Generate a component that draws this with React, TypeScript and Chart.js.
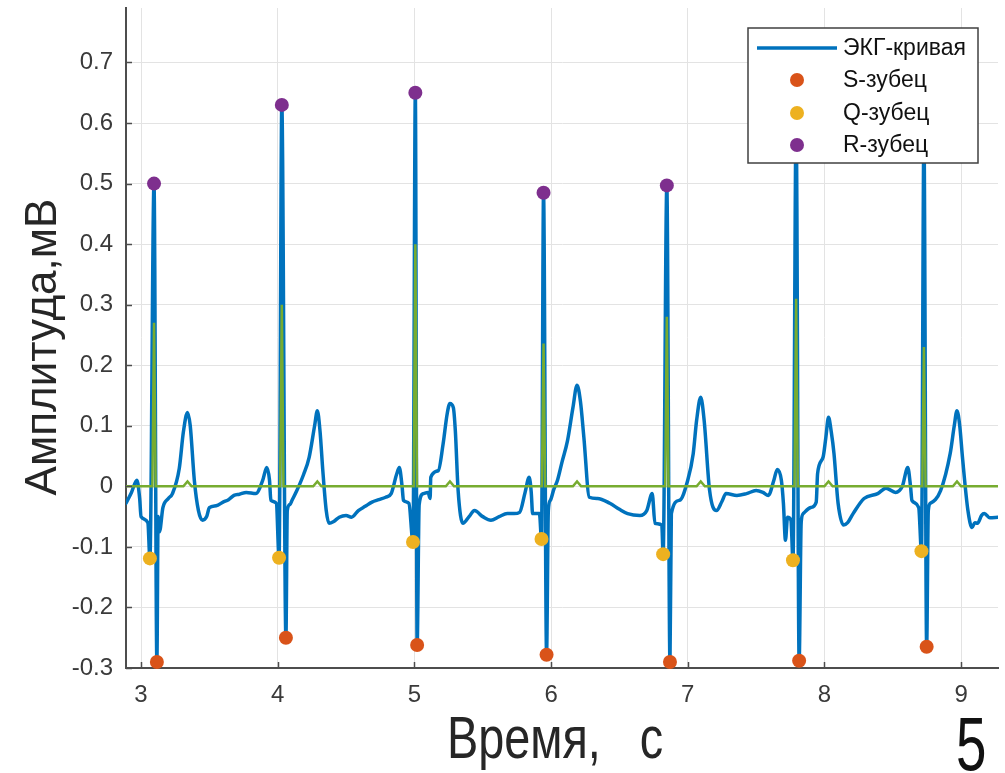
import React, { useEffect, useRef } from "react";
import { Chart, registerables } from "chart.js";

Chart.register(...registerables);

// ---- Data (time in s, amplitude in mV) ----
const ecgCurve: [number, number][] = [
  [2.89, -0.028], [2.93, -0.01], [2.97, 0.01], [2.99, -0.02], [3.0, -0.05], [3.05, -0.06],
  [3.065, -0.119], [3.095, 0.5], [3.116, -0.29], [3.125, -0.05], [3.135, -0.075], [3.16, -0.035],
  [3.2, -0.02], [3.23, -0.012], [3.28, 0.03], [3.31, 0.09], [3.34, 0.122], [3.36, 0.1],
  [3.39, 0.01], [3.42, -0.04], [3.45, -0.056], [3.48, -0.05], [3.5, -0.035], [3.55, -0.032],
  [3.6, -0.026], [3.64, -0.022], [3.68, -0.015], [3.72, -0.013], [3.77, -0.01], [3.84, -0.012],
  [3.89, 0.01], [3.92, 0.031], [3.94, 0.01], [3.95, -0.023], [3.99, -0.028],
  [4.01, -0.118], [4.03, 0.63], [4.06, -0.25], [4.07, -0.04], [4.09, -0.03], [4.105, -0.023],
  [4.14, -0.007], [4.19, 0.02], [4.23, 0.048], [4.27, 0.1], [4.29, 0.125], [4.31, 0.09],
  [4.33, 0.026], [4.355, -0.04], [4.375, -0.061], [4.41, -0.058], [4.45, -0.051], [4.5, -0.048],
  [4.54, -0.051], [4.59, -0.04], [4.64, -0.033], [4.69, -0.026], [4.74, -0.022], [4.79, -0.018],
  [4.83, -0.012], [4.87, 0.02], [4.89, 0.031], [4.91, 0.0], [4.92, -0.023], [4.96, -0.028],
  [4.99, -0.092], [5.007, 0.65], [5.02, -0.262], [5.035, -0.03], [5.065, -0.012], [5.1, -0.01],
  [5.115, -0.02], [5.12, 0.015], [5.175, 0.026], [5.21, 0.07], [5.24, 0.12], [5.26, 0.137],
  [5.285, 0.13], [5.3, 0.09], [5.32, -0.007], [5.355, -0.061], [5.4, -0.05], [5.44, -0.04],
  [5.5, -0.05], [5.56, -0.056], [5.62, -0.05], [5.68, -0.045], [5.73, -0.045], [5.77, -0.043],
  [5.81, -0.01], [5.84, 0.015], [5.855, -0.01], [5.865, -0.045], [5.915, -0.045],
  [5.93, -0.087], [5.945, 0.485], [5.967, -0.278], [5.98, -0.04], [5.995, -0.023], [6.02, -0.005],
  [6.047, 0.01], [6.08, 0.04], [6.12, 0.075], [6.16, 0.13], [6.19, 0.167], [6.215, 0.14],
  [6.24, 0.081], [6.28, -0.018], [6.34, -0.02], [6.43, -0.028], [6.5, -0.038], [6.56, -0.045],
  [6.65, -0.048], [6.7, -0.04], [6.74, -0.012], [6.76, -0.061], [6.81, -0.064],
  [6.82, -0.112], [6.847, 0.497], [6.87, -0.29], [6.88, -0.045], [6.94, -0.023], [7.0, 0.01],
  [7.04, 0.054], [7.065, 0.109], [7.095, 0.147], [7.12, 0.109], [7.16, -0.007], [7.21, -0.04],
  [7.25, -0.025], [7.28, -0.012], [7.36, -0.015], [7.43, -0.012], [7.5, -0.007], [7.55, -0.01],
  [7.59, -0.015], [7.63, 0.01], [7.655, 0.028], [7.685, 0.01], [7.7, -0.028], [7.715, -0.089],
  [7.73, -0.051], [7.755, -0.056], [7.77, -0.122], [7.793, 0.6], [7.815, -0.288], [7.83, -0.06],
  [7.845, -0.045], [7.9, -0.035], [7.94, -0.026], [7.95, 0.021], [7.99, 0.048], [8.01, 0.08],
  [8.03, 0.114], [8.05, 0.09], [8.07, 0.054], [8.1, -0.028], [8.14, -0.064], [8.17, -0.06],
  [8.21, -0.045], [8.29, -0.02], [8.39, -0.012], [8.45, -0.003], [8.52, -0.01], [8.57, 0.0],
  [8.61, 0.031], [8.63, 0.0], [8.64, -0.023], [8.69, -0.035], [8.71, -0.107], [8.728, 0.58],
  [8.748, -0.265], [8.76, -0.04], [8.775, -0.028], [8.85, -0.007], [8.92, 0.054], [8.95, 0.1],
  [8.97, 0.125], [8.99, 0.1], [9.01, 0.048], [9.05, -0.04], [9.08, -0.068], [9.1, -0.06],
  [9.12, -0.061], [9.15, -0.048], [9.17, -0.045], [9.21, -0.052], [9.27, -0.051],
];

const filteredCurve: [number, number][] = [
  [2.89, 0], [3.083, 0], [3.095, 0.27], [3.107, 0], [3.31, 0], [3.34, 0.008], [3.37, 0],
  [4.018, 0], [4.03, 0.3], [4.042, 0], [4.26, 0], [4.29, 0.008], [4.32, 0],
  [4.995, 0], [5.007, 0.4], [5.019, 0], [5.23, 0], [5.26, 0.008], [5.29, 0],
  [5.933, 0], [5.945, 0.236], [5.957, 0], [6.16, 0], [6.19, 0.008], [6.22, 0],
  [6.835, 0], [6.847, 0.28], [6.859, 0], [7.065, 0], [7.095, 0.008], [7.125, 0],
  [7.781, 0], [7.793, 0.31], [7.805, 0], [8.0, 0], [8.03, 0.008], [8.06, 0],
  [8.716, 0], [8.728, 0.23], [8.74, 0], [8.94, 0], [8.97, 0.008], [9.0, 0], [9.27, 0],
];

const sTime = [3.116, 4.06, 5.02, 5.967, 6.87, 7.815, 8.748];
const sValue = [-0.29, -0.25, -0.262, -0.278, -0.29, -0.288, -0.265];
const qTime = [3.065, 4.01, 4.99, 5.93, 6.82, 7.77, 8.71];
const qValue = [-0.119, -0.118, -0.092, -0.087, -0.112, -0.122, -0.107];
const rTime = [3.095, 4.03, 5.007, 5.945, 6.847, 7.793, 8.728];
const rValue = [0.5, 0.63, 0.65, 0.485, 0.497, 0.6, 0.58];

const xTicks = [3, 4, 5, 6, 7, 8, 9];
const xTickLabels = ["3", "4", "5", "6", "7", "8", "9"];
const yTicks = [-0.3, -0.2, -0.1, 0, 0.1, 0.2, 0.3, 0.4, 0.5, 0.6, 0.7];
const yTickLabels = ["-0.3", "-0.2", "-0.1", "0", "0.1", "0.2", "0.3", "0.4", "0.5", "0.6", "0.7"];

const legendLabels = ["ЭКГ-кривая", "S-зубец", "Q-зубец", "R-зубец"];
const xTitle = "Время,   с";
const yTitle = "Амплитуда,мВ";
const pageNumber = "5";

const BLUE = "#0072BD";
const GREEN = "#77AC30";
const ORANGE = "#D95319";
const YELLOW = "#EDB120";
const PURPLE = "#7E2F8E";
const FONT = '"Liberation Sans", Arial, Helvetica, sans-serif';

const overlayPlugin = {
  id: "overlay",
  afterDraw(chart: any) {
    const { ctx, chartArea: a, scales } = chart;
    const xs = scales.x;
    const ys = scales.y;
    ctx.save();
    // inward tick marks
    ctx.strokeStyle = "#4d4d4d";
    ctx.lineWidth = 1.5;
    yTicks.forEach((v) => {
      const py = Math.round(ys.getPixelForValue(v)) + 0.5;
      ctx.beginPath();
      ctx.moveTo(a.left, py);
      ctx.lineTo(a.left + 6, py);
      ctx.stroke();
    });
    xTicks.forEach((v) => {
      const px = Math.round(xs.getPixelForValue(v)) + 0.5;
      ctx.beginPath();
      ctx.moveTo(px, a.bottom);
      ctx.lineTo(px, a.bottom - 6);
      ctx.stroke();
    });

    // y title
    ctx.fillStyle = "#262626";
    ctx.save();
    ctx.font = `44px ${FONT}`;
    ctx.translate(56, (a.top + a.bottom) / 2 + 9);
    ctx.rotate(-Math.PI / 2);
    ctx.textAlign = "center";
    ctx.textBaseline = "alphabetic";
    ctx.fillText(yTitle, 0, 0);
    ctx.restore();

    // x title
    ctx.save();
    ctx.font = `60px ${FONT}`;
    ctx.translate(447, 758);
    ctx.scale(0.78, 1);
    ctx.textAlign = "left";
    ctx.textBaseline = "alphabetic";
    ctx.fillText(xTitle, 0, 0);
    ctx.restore();

    // page number
    ctx.save();
    ctx.fillStyle = "#111";
    ctx.font = `76px ${FONT}`;
    ctx.translate(956, 770);
    ctx.scale(0.72, 1);
    ctx.textAlign = "left";
    ctx.textBaseline = "alphabetic";
    ctx.fillText(pageNumber, 0, 0);
    ctx.restore();

    // legend
    const lx = 748, ly = 28, lw = 230, lh = 135;
    ctx.fillStyle = "#ffffff";
    ctx.fillRect(lx, ly, lw, lh);
    ctx.strokeStyle = "#404040";
    ctx.lineWidth = 1.5;
    ctx.strokeRect(lx, ly, lw, lh);
    const rows = [48, 80, 113, 145];
    ctx.strokeStyle = BLUE;
    ctx.lineWidth = 3.5;
    ctx.beginPath();
    ctx.moveTo(757, rows[0]);
    ctx.lineTo(837, rows[0]);
    ctx.stroke();
    const markerColors = [ORANGE, YELLOW, PURPLE];
    markerColors.forEach((c, i) => {
      ctx.fillStyle = c;
      ctx.beginPath();
      ctx.arc(797, rows[i + 1], 7, 0, Math.PI * 2);
      ctx.fill();
    });
    ctx.fillStyle = "#111";
    ctx.font = `23px ${FONT}`;
    ctx.textAlign = "left";
    ctx.textBaseline = "middle";
    legendLabels.forEach((t, i) => ctx.fillText(t, 843, rows[i] + 1));
    ctx.restore();
  },
};

export default function App() {
  const ref = useRef<HTMLCanvasElement | null>(null);
  useEffect(() => {
    if (!ref.current) return;
    const pts = (t: number[], v: number[]) => t.map((x, i) => ({ x, y: v[i] }));
    const chart = new Chart(ref.current, {
      type: "scatter",
      data: {
        datasets: [
          {
            label: legendLabels[3],
            data: pts(rTime, rValue),
            backgroundColor: PURPLE,
            borderColor: PURPLE,
            pointRadius: 7,
            pointBorderWidth: 0,
            clip: false,
            order: 0,
          } as any,
          {
            label: legendLabels[2],
            data: pts(qTime, qValue),
            backgroundColor: YELLOW,
            borderColor: YELLOW,
            pointRadius: 7,
            pointBorderWidth: 0,
            clip: false,
            order: 0,
          },
          {
            label: legendLabels[1],
            data: pts(sTime, sValue),
            backgroundColor: ORANGE,
            borderColor: ORANGE,
            pointRadius: 7,
            pointBorderWidth: 0,
            clip: false,
            order: 0,
          },
          {
            label: "filtered",
            data: filteredCurve.map(([x, y]) => ({ x, y })),
            showLine: true,
            borderColor: GREEN,
            borderWidth: 2.5,
            pointRadius: 0,
            tension: 0,
            order: 1,
          },
          {
            label: legendLabels[0],
            data: ecgCurve.map(([x, y]) => ({ x, y })),
            showLine: true,
            borderColor: BLUE,
            borderWidth: 3.5,
            borderJoinStyle: "round",
            borderCapStyle: "round",
            cubicInterpolationMode: "monotone",
            pointRadius: 0,
            order: 2,
          },
        ],
      },
      options: {
        animation: false,
        responsive: false,
        maintainAspectRatio: false,
        layout: { padding: { top: 8, right: 2, left: 0, bottom: 0 } },
        plugins: { legend: { display: false }, tooltip: { enabled: false } },
        scales: {
          x: {
            type: "linear",
            min: 2.89,
            max: 9.27,
            grid: { color: "#e3e3e3", lineWidth: 1, drawTicks: false },
            border: { display: true, color: "#4d4d4d", width: 2 },
            ticks: {
              autoSkip: false,
              maxRotation: 0,
              padding: 13,
              color: "#3a3a3a",
              font: { family: FONT, size: 24 },
              callback: (_v: any, i: number) => xTickLabels[i],
            },
            afterBuildTicks: (s: any) => {
              s.ticks = xTicks.map((value) => ({ value }));
            },
            afterFit: (s: any) => {
              s.height = 105;
              s.paddingLeft = 0;
              s.paddingRight = 0;
            },
          },
          y: {
            type: "linear",
            min: -0.3,
            max: 0.79,
            grid: { color: "#e3e3e3", lineWidth: 1, drawTicks: false },
            border: { display: true, color: "#4d4d4d", width: 2 },
            ticks: {
              autoSkip: false,
              padding: 13,
              color: "#3a3a3a",
              font: { family: FONT, size: 24 },
              callback: (_v: any, i: number) => yTickLabels[i],
            },
            afterBuildTicks: (s: any) => {
              s.ticks = yTicks.map((value) => ({ value }));
            },
            afterFit: (s: any) => {
              s.width = 126;
              s.paddingTop = 0;
              s.paddingBottom = 0;
            },
          },
        },
      } as any,
      plugins: [overlayPlugin],
    });
    return () => chart.destroy();
  }, []);
  return (
    <div style={{ position: "absolute", left: 0, top: 0, width: 1005, height: 773, background: "#fff" }}>
      <canvas ref={ref} width={1005} height={773} style={{ display: "block" }} />
    </div>
  );
}
